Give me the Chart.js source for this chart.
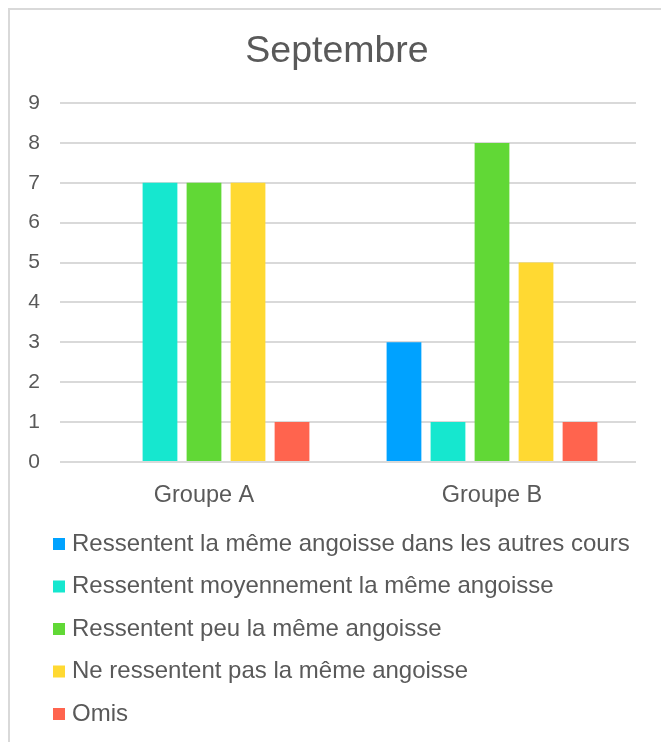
<!DOCTYPE html>
<html>
<head>
<meta charset="utf-8">
<script src="https://cdn.jsdelivr.net/npm/chart.js@4"></script>
<style>
  body { margin: 0; background: #fff; }
  #frame { position: absolute; left: 8px; top: 8px; width: 700px; height: 800px; border: 2px solid #d9d9d9; }
  #chart { position: absolute; left: 0; top: 0; }
</style>
</head>
<body>
<div id="frame"></div>
<canvas id="chart" width="661" height="742"></canvas>
<script>
const groups = ['Groupe A', 'Groupe B'];
const seriesNames = [
  'Ressentent la même angoisse dans les autres cours',
  'Ressentent moyennement la même angoisse',
  'Ressentent peu la même angoisse',
  'Ne ressentent pas la même angoisse',
  'Omis'
];
const memeAngoisse = [0, 3];
const moyennement = [7, 1];
const peu = [7, 8];
const pas = [7, 5];
const omis = [1, 1];
const yTicks = [0, 1, 2, 3, 4, 5, 6, 7, 8, 9];

const colors = ['#00A2FF', '#16E7CF', '#61D836', '#FFD932', '#FF644E'];
const textColor = '#595959';
const font = 'Arial, "Liberation Sans", sans-serif';

const values = [memeAngoisse, moyennement, peu, pas, omis];

// legend drawn one entry per line, like the original
const listLegend = {
  id: 'listLegend',
  afterDraw(chart) {
    const ctx = chart.ctx;
    const top = chart.chartArea.bottom + 82;
    ctx.save();
    ctx.font = '24px ' + font;
    ctx.textBaseline = 'middle';
    chart.data.datasets.forEach((ds, i) => {
      const y = top + i * 42.5;
      ctx.fillStyle = ds.backgroundColor;
      ctx.fillRect(53, y - 6, 12, 12);
      ctx.fillStyle = textColor;
      ctx.fillText(ds.label, 72, y);
    });
    ctx.restore();
  }
};

new Chart(document.getElementById('chart'), {
  type: 'bar',
  data: {
    labels: groups,
    datasets: seriesNames.map((name, i) => ({
      label: name,
      data: values[i],
      backgroundColor: colors[i],
      categoryPercentage: 0.764,
      barPercentage: 0.79
    }))
  },
  options: {
    responsive: false,
    animation: false,
    layout: { padding: { left: 13, right: 0, top: 0, bottom: 230 } },
    plugins: {
      legend: { display: false },
      tooltip: { enabled: false },
      title: {
        display: true,
        text: 'Septembre',
        color: textColor,
        font: { family: font, size: 37.5, weight: 'normal' },
        padding: { top: 29, bottom: 29 }
      }
    },
    scales: {
      x: {
        grid: { display: false },
        border: { display: false },
        ticks: { color: textColor, font: { family: font, size: 23.5 }, padding: 11 },
        afterFit(scale) { scale.height = 50; }
      },
      y: {
        min: 0,
        max: yTicks[yTicks.length - 1],
        afterBuildTicks(scale) { scale.ticks = yTicks.map(v => ({ value: v })); },
        grid: { color: '#d9d9d9', lineWidth: 2, drawTicks: false },
        border: { display: false },
        ticks: { color: textColor, font: { family: font, size: 21 }, padding: 20 },
        afterFit(scale) { scale.width = 47; }
      },
      // empty right axis, only keeps a margin on the right of the plot
      yRight: {
        position: 'right',
        min: 0,
        max: yTicks[yTicks.length - 1],
        grid: { display: false },
        border: { display: false },
        ticks: { display: false },
        afterFit(scale) { scale.width = 25; }
      }
    }
  },
  plugins: [listLegend]
});
</script>
</body>
</html>
